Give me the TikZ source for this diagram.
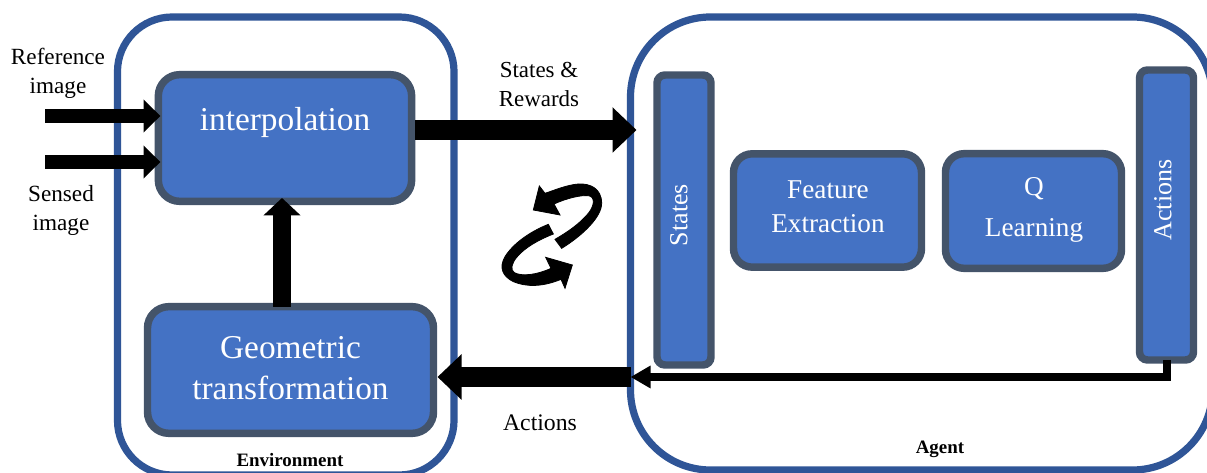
\documentclass[tikz,border=0pt]{standalone}
\usepackage{fontspec}
\setmainfont{Liberation Serif}
\usetikzlibrary{arrows.meta,calc}
\definecolor{boxfill}{HTML}{4472C4}
\definecolor{boxline}{HTML}{44546A}
\definecolor{frameline}{HTML}{2F5597}
\newcommand{\pxfont}[1]{\fontsize{#1}{#1}\selectfont}
\tikzset{
  x=0.75pt,y=-0.75pt,
  frame/.style={draw=frameline,line width=5.4pt,rounded corners=#1,inner sep=0pt,outer sep=0pt,anchor=center},
  block/.style={draw=boxline,fill=boxfill,line width=5.6pt,rounded corners=#1,inner sep=0pt,outer sep=0pt,anchor=center},
  whitetext/.style={text=white,align=center,inner sep=0pt},
  blacktext/.style={text=black,align=center,inner sep=0pt},
  inarrow/.style={line width=10.5pt,-{Triangle[length=12.5pt,width=24pt]}},
  bigarrow/.style={line width=15pt,-{Triangle[length=18pt,width=33pt]}},
  uparrow/.style={line width=13.5pt,-{Triangle[length=13pt,width=27pt]}},
  thinarrow/.style={line width=6pt,-{Triangle[length=15pt,width=16pt]},line join=miter},
}
\begin{document}
\begin{tikzpicture}
\useasboundingbox (0,0) rectangle (1207,473);
\clip (0,0) rectangle (1207,473);
\fill[white] (0,0) rectangle (1207,473);

% frames
\node[frame=41pt,minimum width=252.4pt,minimum height=343.5pt] (env) at (285.75,246) {};
\node[frame=60pt,minimum width=436.5pt,minimum height=339.75pt] (agent) at (921.5,243.5) {};

% blocks
\node[block=16pt,minimum width=190pt,minimum height=95pt] (interp) at (285,138) {};
\node[block=16pt,minimum width=214.5pt,minimum height=95pt] (geom) at (290.5,370) {};
\node[block=6pt,minimum width=40.5pt,minimum height=217.5pt] (states) at (684,220) {};
\node[block=14pt,minimum width=141pt,minimum height=85pt] (feat) at (827.5,210.5) {};
\node[block=14pt,minimum width=132pt,minimum height=86pt] (qlearn) at (1033.5,211) {};
\node[block=6pt,minimum width=40.5pt,minimum height=217.5pt] (acts) at (1166.5,215) {};

% free ends
\coordinate (refin) at (45,116);
\coordinate (senin) at (45,162);
\coordinate (upx) at (282,0);
\coordinate (sry) at (0,130);
\coordinate (ret) at (0,377);

% connectors
\draw[inarrow] (refin) -- ([xshift=1.5pt]refin -| interp.west);
\draw[inarrow] (senin) -- ([xshift=1.5pt]senin -| interp.west);
\draw[uparrow] (upx |- geom.north) -- ([yshift=2.5pt]upx |- interp.south);
\draw[bigarrow] ([xshift=2.5pt]sry -| interp.east) -- ([xshift=4.5pt]sry -| agent.west);
\draw[thinarrow] (acts.south) -- (acts.south |- ret) -- (ret -| agent.west);
\draw[bigarrow] (ret -| agent.west) -- ([xshift=3pt]ret -| geom.east);

% cycle icon
\begin{scope}[shift={(480,160)},x=0.25pt,y=-0.25pt]
\filldraw[black,line width=0.6pt] (245,265) .. controls (310,225) and (365,170) .. (365,130)
  .. controls (365,85) and (330,70) .. (295,72)
  .. controls (260,75) and (225,90) .. (195,100)
  -- (178,78) -- (160,150) -- (240,165) -- (222,132)
  .. controls (260,115) and (300,105) .. (325,107)
  .. controls (345,110) and (345,135) .. (325,160)
  .. controls (300,190) and (265,215) .. (225,238) -- cycle;
\filldraw[black,line width=0.6pt] (205,193) .. controls (150,215) and (100,250) .. (75,290)
  .. controls (55,325) and (70,350) .. (100,365)
  .. controls (140,382) and (190,380) .. (243,358)
  -- (255,385) -- (277,315) -- (197,292) -- (213,325)
  .. controls (170,345) and (125,350) .. (103,338)
  .. controls (90,330) and (95,310) .. (110,292)
  .. controls (135,262) and (175,240) .. (220,222) -- cycle;
\end{scope}

% labels
\node[blacktext,font=\pxfont{17.4pt}] (tref) at (58,73) {Reference\\[4.5pt]image};
\node[blacktext,font=\pxfont{17.4pt}] (tsen) at (61,210.5) {Sensed\\[5pt]image};
\node[blacktext,font=\pxfont{17.2pt}] (tsr) at (539,84.5) {States \&\\[4.5pt]Rewards};
\node[blacktext,font=\pxfont{17.8pt}] (tact) at (540,423) {Actions};
\node[blacktext,font=\bfseries\pxfont{14.2pt}] (tenv) at (290,460) {Environment};
\node[blacktext,font=\bfseries\pxfont{14.2pt}] (tagent) at (940,449) {Agent};
\node[whitetext,font=\pxfont{25pt}] (tint) at (285,122.5) {interpolation};
\node[whitetext,font=\pxfont{25pt}] (tgeom) at (290.5,368) {Geometric\\[5.5pt]transformation};
\node[whitetext,font=\pxfont{20.4pt}] (tfeat) at (828,206.5) {Feature\\[5pt]Extraction};
\node[whitetext,font=\pxfont{20.4pt}] (tq) at (1034,210) {Q\\[10pt]Learning};
\node[whitetext,font=\pxfont{19.5pt},rotate=90] (tst) at (679,215) {States};
\node[whitetext,font=\pxfont{19.5pt},rotate=90] (tac) at (1163,200) {Actions};
\end{tikzpicture}
\end{document}
